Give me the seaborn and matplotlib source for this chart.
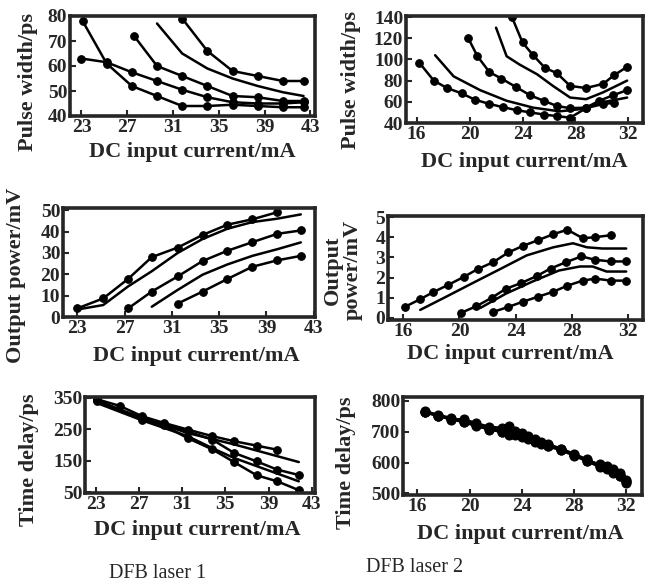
import matplotlib
matplotlib.use("Agg")
import matplotlib.pyplot as plt
import seaborn as sns

# ---------------- DFB laser 1 : pulse width (ps) ----------------
pw1_a_x = [23.1, 25.2, 27.4, 29.6, 31.8, 34.0, 36.2, 38.4, 40.6, 42.4]
pw1_a_y = [78, 61, 52, 48, 44, 44, 44.5, 44, 43.5, 43.5]
pw1_b_x = [23.0, 25.2, 27.4, 29.6, 31.8, 34.0, 36.2, 38.4, 40.6, 42.4]
pw1_b_y = [63, 61.5, 57.5, 54, 50.5, 47.5, 45.5, 45, 45, 45.5]
pw1_c_x = [27.6, 29.6, 31.8, 34.0, 36.2, 38.4, 40.6, 42.4]
pw1_c_y = [72, 60, 56, 52, 48, 47.5, 46, 46]
pw1_d_x = [29.6, 31.8, 34.0, 36.2, 38.4, 40.6, 42.4]
pw1_d_y = [77, 65, 59, 55, 52, 49.5, 48]
pw1_e_x = [31.8, 34.0, 36.2, 38.4, 40.6, 42.4]
pw1_e_y = [79, 66, 58, 56, 54, 54]

# ---------------- DFB laser 2 : pulse width (ps) ----------------
pw2_a_x = [16.2, 17.3, 18.3, 19.4, 20.4, 21.5, 22.5, 23.6, 24.6, 25.6, 26.6, 27.6, 28.8, 30.1, 30.9]
pw2_a_y = [97, 80, 73, 68, 62, 58, 55, 52, 50, 48, 46.5, 45, 54, 58, 59]
pw2_b_x = [17.4, 18.8, 20.8, 22.8, 24.8, 26.8, 28.3, 29.8, 31.9]
pw2_b_y = [104, 84, 71, 61, 54.5, 51, 53, 59, 64]
pw2_c_x = [19.9, 20.6, 21.5, 22.4, 23.5, 24.6, 25.6, 26.6, 27.6, 28.8, 29.8, 30.8, 31.9]
pw2_c_y = [120, 103, 88, 82, 74, 66, 61, 56, 54, 54.5, 61, 66, 71]
pw2_d_x = [22.0, 22.8, 23.8, 25.1, 26.3, 27.6, 28.8, 30.1, 31.9]
pw2_d_y = [130, 103, 95, 86, 75, 64, 62.5, 69, 80]
pw2_e_x = [23.2, 24.0, 24.8, 25.7, 26.6, 27.6, 28.8, 30.1, 30.9, 31.9]
pw2_e_y = [140, 116, 104, 92, 87, 75, 73, 77, 85, 93]

# ---------------- DFB laser 1 : output power (mV) ----------------
op1_a_x = [23.0, 25.2, 27.3, 29.3, 31.5, 33.6, 35.7, 37.8, 39.9]
op1_a_y = [4, 8.7, 17.8, 28, 32.5, 38.4, 43.2, 45.7, 49]
op1_b_x = [23.0, 25.2, 27.3, 29.3, 31.5, 33.6, 35.7, 37.8, 39.9, 41.9]
op1_b_y = [3.5, 5.6, 14.3, 21.4, 30, 36.5, 41.3, 44.4, 46, 48]
op1_c_x = [27.3, 29.3, 31.5, 33.6, 35.7, 37.8, 39.9, 41.9]
op1_c_y = [4, 11.9, 19, 26.2, 31, 35, 38.9, 40.5]
op1_d_x = [29.3, 31.5, 33.6, 35.7, 37.8, 39.9, 41.9]
op1_d_y = [4.8, 12.7, 19.8, 24.6, 28.6, 31.7, 34.9]
op1_e_x = [31.5, 33.6, 35.7, 37.8, 39.9, 41.9]
op1_e_y = [6.3, 11.9, 17.8, 23.5, 26.5, 28.6]

# ---------------- DFB laser 2 : output power (mV) ----------------
op2_a_x = [16.1, 17.2, 18.1, 19.2, 20.3, 21.3, 22.4, 23.5, 24.5, 25.6, 26.7, 27.7, 28.8, 29.7, 30.8]
op2_a_y = [0.55, 0.93, 1.27, 1.64, 2.03, 2.42, 2.76, 3.25, 3.56, 3.85, 4.15, 4.37, 3.95, 4.0, 4.1]
op2_b_x = [17.2, 19.1, 21.0, 22.9, 24.8, 26.7, 28.1, 29.1, 30.2, 31.9]
op2_b_y = [0.4, 1.07, 1.75, 2.42, 3.1, 3.5, 3.7, 3.5, 3.44, 3.44]
op2_c_x = [20.1, 21.2, 22.3, 23.3, 24.4, 25.5, 26.5, 27.6, 28.7, 29.7, 30.8, 31.9]
op2_c_y = [0.25, 0.58, 1.0, 1.44, 1.73, 2.07, 2.45, 2.76, 3.05, 2.88, 2.8, 2.8]
op2_d_x = [21.5, 23.3, 25.2, 27.1, 28.6, 29.5, 30.5, 31.9]
op2_d_y = [0.5, 1.2, 1.8, 2.35, 2.55, 2.55, 2.3, 2.3]
op2_e_x = [22.4, 23.5, 24.5, 25.6, 26.7, 27.7, 28.8, 29.7, 30.8, 31.9]
op2_e_y = [0.3, 0.55, 0.8, 1.05, 1.3, 1.6, 1.85, 1.95, 1.85, 1.85]

# ---------------- DFB laser 1 : time delay (ps) ----------------
td1_a_x = [23.1, 25.2, 27.3, 29.3, 31.5, 33.8, 35.8, 37.9, 39.8]
td1_a_y = [345, 324, 291, 270, 249, 228, 212, 198, 185]
td1_b_x = [23.1, 27.3, 31.5, 35.8, 41.8]
td1_b_y = [337, 286, 238, 202, 146]
td1_c_x = [23.1, 27.3, 29.3, 31.5, 33.8, 35.8, 37.9, 39.8, 41.8]
td1_c_y = [340, 280, 265, 243, 217, 175, 148, 122, 105]
td1_d_x = [23.1, 27.3, 31.5, 33.8, 35.8, 37.9, 41.8]
td1_d_y = [333, 278, 228, 190, 159, 133, 85]
td1_e_x = [23.1, 27.3, 29.3, 31.5, 33.8, 35.8, 37.9, 39.8, 41.8]
td1_e_y = [342, 284, 262, 222, 186, 146, 104, 85, 57]

# ---------------- DFB laser 2 : time delay (ps) ----------------
td2_x = [16.6, 17.6, 18.6, 19.6, 20.5, 21.5, 22.5, 23.0, 23.5, 24.0, 24.5, 25.0,
         25.5, 26.0, 27.0, 28.0, 29.0, 30.0, 30.5, 31.0, 31.5, 32.0]
td2_a_y = [765, 752, 742, 733, 722, 712, 703, 700, 693, 688, 682, 675,
           668, 660, 645, 628, 610, 590, 585, 575, 565, 545]
td2_b_y = [762, 750, 740, 740, 727, 716, 712, 718, 702, 692, 680, 670,
           662, 655, 642, 625, 607, 592, 580, 570, 558, 538]
td2_c_y = [766, 754, 744, 730, 718, 708, 698, 690, 688, 682, 676, 668,
           660, 652, 640, 622, 604, 585, 588, 580, 560, 540]
td2_d_y = [764, 751, 739, 731, 720, 706, 700, 705, 696, 694, 686, 672,
           664, 657, 643, 626, 606, 594, 582, 566, 555, 535]

panel_titles = ["DFB laser 1", "DFB laser 2"]
xlab = "DC input current/mA"

sns.set_style("ticks")
plt.rcParams["font.family"] = ["Liberation Serif", "DejaVu Serif"]
plt.rcParams["font.weight"] = "bold"

W, H = 649, 588
fig = plt.figure(figsize=(W / 100, H / 100), dpi=100)


def add_ax(l, t, r, b):
    return fig.add_axes([l / W, 1 - b / H, (r - l) / W, (b - t) / H])


def draw(ax, curves, xlim, ylim, xticks, yticks, ylabel, ylab_pos, xlab_pos, ms=5.5):
    for x, y, mk in curves:
        sns.lineplot(x=x, y=y, ax=ax, color="black", lw=1.8, sort=False,
                     marker="o" if mk else None, markersize=ms,
                     markeredgecolor="black", markerfacecolor="black")
    ax.set_xlim(*xlim)
    ax.set_ylim(*ylim)
    ax.set_xticks(xticks)
    ax.set_yticks(yticks)
    ax.tick_params(direction="in", length=4, width=1.5, labelsize=14, pad=2)
    for s in ax.spines.values():
        s.set_visible(True)
        s.set_linewidth(2.6)
    ax.set_xlabel(xlab, fontsize=16, fontweight="bold")
    ax.set_ylabel(ylabel, fontsize=16, fontweight="bold", linespacing=1.0)
    ax.xaxis.set_label_coords(*xlab_pos)
    ax.yaxis.set_label_coords(*ylab_pos)


ax1 = add_ax(70, 16, 315, 116)
draw(ax1, [(pw1_a_x, pw1_a_y, True), (pw1_b_x, pw1_b_y, True), (pw1_c_x, pw1_c_y, True),
           (pw1_d_x, pw1_d_y, False), (pw1_e_x, pw1_e_y, True)],
     (22.0, 43.4), (40, 80), [23, 27, 31, 35, 39, 43], [40, 50, 60, 70, 80],
     "Pulse width/ps", (-0.13, 0.34), (0.5, -0.26))

ax2 = add_ax(406, 16, 643, 123)
draw(ax2, [(pw2_a_x, pw2_a_y, True), (pw2_b_x, pw2_b_y, False), (pw2_c_x, pw2_c_y, True),
           (pw2_d_x, pw2_d_y, False), (pw2_e_x, pw2_e_y, True)],
     (15.2, 33.1), (40, 141), [16, 20, 24, 28, 32], [40, 60, 80, 100, 120, 140],
     "Pulse width/ps", (-0.19, 0.40), (0.5, -0.27))

ax3 = add_ax(63, 208, 315, 317)
draw(ax3, [(op1_a_x, op1_a_y, True), (op1_b_x, op1_b_y, False), (op1_c_x, op1_c_y, True),
           (op1_d_x, op1_d_y, False), (op1_e_x, op1_e_y, True)],
     (21.8, 43.1), (0, 51), [23, 27, 31, 35, 39, 43], [0, 10, 20, 30, 40, 50],
     "Output power/mV", (-0.147, 0.38), (0.53, -0.27))

ax4 = add_ax(388, 216, 643, 320)
draw(ax4, [(op2_a_x, op2_a_y, True), (op2_b_x, op2_b_y, False), (op2_c_x, op2_c_y, True),
           (op2_d_x, op2_d_y, False), (op2_e_x, op2_e_y, True)],
     (14.9, 33.1), (-0.1, 5.05), [16, 20, 24, 28, 32], [0, 1, 2, 3, 4, 5],
     "Output\npower/mV", (-0.10, 0.48), (0.48, -0.23))

ax5 = add_ax(85, 397, 315, 493)
draw(ax5, [(td1_a_x, td1_a_y, True), (td1_b_x, td1_b_y, False), (td1_c_x, td1_c_y, True),
           (td1_d_x, td1_d_y, False), (td1_e_x, td1_e_y, True)],
     (22.0, 43.3), (48, 352), [23, 27, 31, 35, 39, 43], [50, 150, 250, 350],
     "Time delay/ps", (-0.2, 0.35), (0.49, -0.28))

ax6 = add_ax(403, 397, 642, 495)
draw(ax6, [(td2_x, td2_a_y, True), (td2_x, td2_b_y, True), (td2_x, td2_c_y, True),
           (td2_x, td2_d_y, True)],
     (14.9, 33.2), (495, 812), [16, 20, 24, 28, 32], [500, 600, 700, 800],
     "Time delay/ps", (-0.197, 0.33), (0.49, -0.30), ms=6.5)

fig.text(158 / W, 1 - 573 / H, panel_titles[0], ha="center", va="center",
         fontsize=14.5, fontweight="normal")
fig.text(415 / W, 1 - 568 / H, panel_titles[1], ha="center", va="center",
         fontsize=14.5, fontweight="normal")

fig.savefig("out.png", dpi=100)
